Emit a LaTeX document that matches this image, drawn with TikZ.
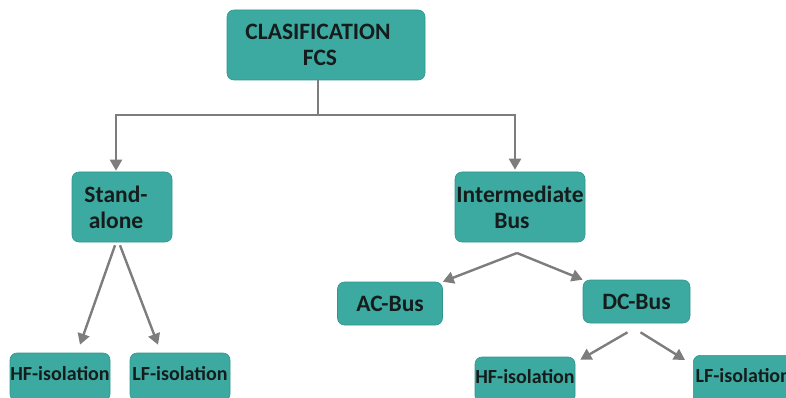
\documentclass[tikz,border=0pt]{standalone}
\usepackage{fontspec}
\setmainfont{Carlito}
\usetikzlibrary{arrows.meta,calc}
\definecolor{boxteal}{RGB}{60,170,160}
\definecolor{boxedge}{RGB}{48,150,140}
\definecolor{linkgray}{RGB}{125,125,125}
\definecolor{inkdark}{RGB}{22,28,28}
\tikzset{
  box/.style={draw=boxedge, line width=0.6pt, fill=boxteal, rounded corners=7pt,
    inner sep=0pt, text=inkdark, font=\bfseries\fontsize{23.5}{26}\selectfont, align=center},
  smallbox/.style={box, font=\bfseries\fontsize{20}{24}\selectfont,
    text height=12pt, text depth=6pt},
  link/.style={draw=linkgray, line width=2.4pt, -{Triangle[length=11pt,width=12pt]}},
  plain/.style={draw=linkgray, line width=2.4pt}
}
\begin{document}
\begin{tikzpicture}[x=1pt,y=-1pt]
\useasboundingbox (0,0) rectangle (786,398);
% boxes
\node[box, minimum width=198pt, minimum height=70pt] (root) at (326,45)
  {\hspace*{-16pt}CLASIFICATION\\\hspace*{-12pt}FCS};
\node[box, minimum width=100pt, minimum height=70pt] (sa) at (122,207)
  {\hspace*{-12pt}Stand-\\\hspace*{-12pt}alone};
\node[box, minimum width=130pt, minimum height=70pt] (ib) at (520,207)
  {Intermediate\\\hspace*{-16pt}Bus};
\node[box, minimum width=105pt, minimum height=43pt] (ac) at (390,303.5) {AC-Bus};
\node[box, minimum width=107pt, minimum height=43pt] (dc) at (636.5,301.5) {DC-Bus};
\node[smallbox, minimum width=100pt, minimum height=48pt] (hf1) at (60,377) {HF-isolation};
\node[smallbox, minimum width=100pt, minimum height=48pt] (lf1) at (180,377) {LF-isolation};
\node[smallbox, minimum width=100pt, minimum height=46pt] (hf2) at (525,380) {HF-isolation};
\node[smallbox, minimum width=100pt, minimum height=48pt, anchor=north west] (lf2) at (693,355) {LF-isolation};
% branch from the root
\coordinate (split) at (318,115);
\draw[plain] (root.south -| split) -- (split);
\draw[link] (split) -| ($(sa.north)+(-6,-1)$);
\draw[link] (split) -| ($(ib.north)+(-5,-2)$);
% stand-alone branches
\draw[link] ($(sa.south)+(-7,3)$) -- ($(hf1.north)+(20,-8)$);
\draw[link] ($(sa.south)+(-2,3)$) -- ($(lf1.north)+(-22,-8)$);
% intermediate bus branches
\coordinate (ibs) at (517,253);
\draw[link] (ibs) -- (ac.north east);
\draw[link] (ibs) -- (dc.north west);
% dc-bus branches
\draw[link] ($(dc.south)+(-9,9)$) -- ($(hf2.north east)+(5,3)$);
\draw[link] ($(dc.south)+(4,9)$) -- ($(lf2.north west)+(-8,5)$);
\end{tikzpicture}
\end{document}
